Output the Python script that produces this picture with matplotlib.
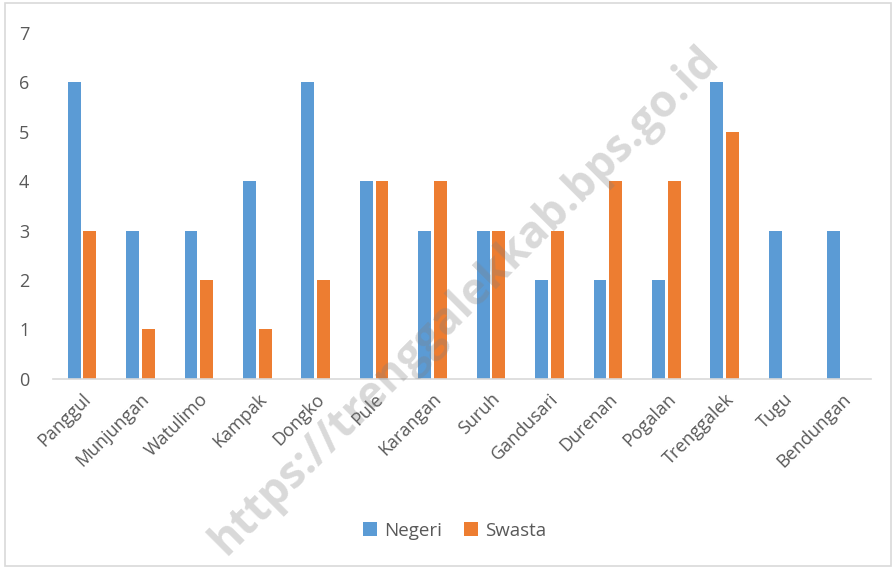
import matplotlib
matplotlib.use("Agg")
import matplotlib.pyplot as plt
import numpy as np
from matplotlib.patches import Rectangle

categories = ["Panggul", "Munjungan", "Watulimo", "Kampak", "Dongko", "Pule",
              "Karangan", "Suruh", "Gandusari", "Durenan", "Pogalan",
              "Trenggalek", "Tugu", "Bendungan"]
negeri = [6, 3, 3, 4, 6, 4, 3, 3, 2, 2, 2, 6, 3, 3]
swasta = [3, 1, 2, 1, 2, 4, 4, 3, 3, 4, 4, 5, 0, 0]
yticks = [0, 1, 2, 3, 4, 5, 6, 7]

plt.rcParams['font.family'] = ['Open Sans', 'DejaVu Sans']
txt = "#595959"

fig = plt.figure(figsize=(8.95, 5.68), dpi=100)
fig.patches.append(Rectangle((0.006, 0.004), 0.99, 0.99, transform=fig.transFigure,
                             fill=False, edgecolor="#D9D9D9", linewidth=1.2))
ax = fig.add_axes([0.059, 0.333, 0.914, 0.609])
x = np.arange(len(categories))
w = 0.22
ax.bar(x - 0.135, negeri, w, color="#5B9BD5", label="Negeri", zorder=2)
ax.bar(x + 0.135, swasta, w, color="#ED7D31", label="Swasta", zorder=2)
ax.set_xlim(-0.5, len(categories) - 0.5)
ax.set_ylim(0, 7)
ax.set_yticks(yticks)
ax.set_yticklabels([str(v) for v in yticks], fontsize=13, color=txt)
ax.set_xticks(x)
ax.set_xticklabels(categories, rotation=45, ha="right", rotation_mode="anchor",
                   fontsize=13, color=txt)
ax.tick_params(length=0, pad=8)
ax.tick_params(axis="y", pad=17)
for s in ["top", "right", "left"]:
    ax.spines[s].set_visible(False)
ax.spines["bottom"].set_color("#D9D9D9")
ax.spines["bottom"].set_linewidth(1.2)

fig.legend(loc="center", bbox_to_anchor=(0.508, 0.066), ncol=2, frameon=False,
           fontsize=13.5, handlelength=0.75, handleheight=0.75, columnspacing=1.2,
           handletextpad=0.35, labelcolor=txt)

fig.text(0.52, 0.47, "https://trenggalekkab.bps.go.id", rotation=45,
         ha="center", va="center", fontsize=32, fontweight="bold",
         color="#808080", alpha=0.3, zorder=10)

fig.savefig("out.png", dpi=100)
